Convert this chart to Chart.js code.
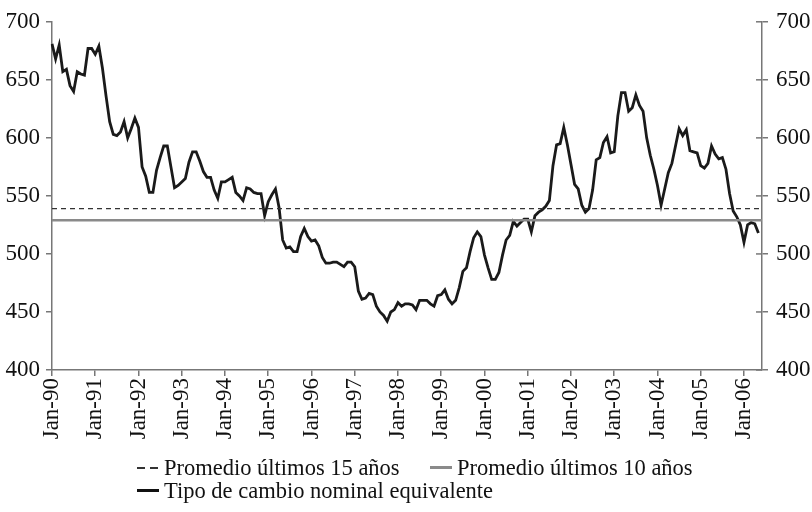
<!DOCTYPE html>
<html>
<head>
<meta charset="utf-8">
<script src="https://cdn.jsdelivr.net/npm/chart.js@4.4.0/dist/chart.umd.min.js"></script>
<style>
  html, body { margin: 0; padding: 0; background: #fff; }
  #wrap { position: relative; width: 812px; height: 512px; overflow: hidden; }
  #chart { position: absolute; left: 0; top: 0; }
  .item { position: absolute; display: flex; align-items: center; font-family: "Liberation Serif", "Times New Roman", serif; font-size: 22.5px; line-height: 23px; color: #111; white-space: nowrap; }
  .sym { display: inline-block; width: 22px; margin-right: 5px; }
  .dash { height: 2px; background: repeating-linear-gradient(to right, #333 0 8px, transparent 8px 13px); }
  .gray { height: 3px; background: #8a8a8a; }
  .black { height: 3px; background: #111; }
</style>
</head>
<body>
<div id="wrap">
  <canvas id="chart" width="812" height="512"></canvas>
  <div class="item" style="left:137px; top:456px;"><span class="sym dash"></span>Promedio últimos 15 años</div>
  <div class="item" style="left:430px; top:456px;"><span class="sym gray"></span>Promedio últimos 10 años</div>
  <div class="item" style="left:137px; top:479px;"><span class="sym black"></span>Tipo de cambio nominal equivalente</div>
</div>
<script>
// === Data ===
const monthNames = ["Jan", "Feb", "Mar", "Apr", "May", "Jun", "Jul", "Aug", "Sep", "Oct", "Nov", "Dec"];
const firstYear = 1990;
const lastYear = 2006;

// monthly values, Jan-90 .. May-06
const tipoCambio = [
  681, 668, 680, 657, 659, 645, 640, 657, 655, 654, 677, 677, // 1990
  672, 679, 660, 636, 614, 603, 602, 605, 614, 600, 608, 617, // 1991
  609, 575, 567, 553, 553, 572, 583, 593, 593, 575, 557, 559, // 1992
  562, 565, 579, 588, 588, 580, 571, 566, 566, 555, 548, 562, // 1993
  562, 564, 566, 553, 550, 546, 557, 556, 553, 552, 552, 533, // 1994
  545, 551, 556, 540, 512, 505, 506, 502, 502, 515, 522, 515, // 1995
  511, 512, 507, 497, 492, 492, 493, 493, 491, 489, 493, 493, // 1996
  489, 468, 461, 462, 466, 465, 455, 450, 447, 442, 450, 452, // 1997
  458, 455, 457, 457, 456, 452, 460, 460, 460, 457, 455, 464, // 1998
  465, 469, 461, 457, 460, 471, 485, 488, 502, 514, 519, 515, // 1999
  499, 488, 478, 478, 484, 499, 512, 516, 528, 524, 527, 530, // 2000
  530, 519, 533, 536, 538, 541, 546, 576, 594, 595, 609, 594, // 2001
  577, 560, 556, 542, 536, 539, 555, 581, 583, 596, 601, 587, // 2002
  588, 619, 639, 639, 623, 626, 637, 628, 623, 600, 585, 573, // 2003
  559, 542, 556, 570, 578, 593, 608, 602, 607, 589, 588, 587, // 2004
  576, 574, 578, 593, 586, 582, 583, 573, 552, 537, 532, 525, // 2005
  510, 525, 527, 526, 518                                     // 2006
];
const promedio15 = 539;
const promedio10 = 529;
const yMin = 400, yMax = 700, yStep = 50;

// labels Jan-90 .. Jun-06 (one spare month so the axis runs past the last point)
const labels = [];
for (let y = firstYear; y <= lastYear; y++) {
  monthNames.forEach((m, i) => {
    if (y === lastYear && i > 5) return;
    labels.push(m + "-" + String(y).slice(2));
  });
}

const font = { family: "'Liberation Serif', 'Times New Roman', serif", size: 23 };
const axisColor = "#777";

// right axis ticks also point into the plot
const innerTicks = {
  id: "innerTicks",
  afterDraw(chart) {
    const s = chart.scales.y2;
    const c = chart.ctx;
    c.save();
    c.strokeStyle = axisColor;
    c.lineWidth = 1.5;
    s.ticks.forEach((t, i) => {
      const py = s.getPixelForTick(i);
      c.beginPath();
      c.moveTo(s.left - 6, py);
      c.lineTo(s.left, py);
      c.stroke();
    });
    c.restore();
  }
};

const ctx = document.getElementById("chart").getContext("2d");
new Chart(ctx, {
  type: "line",
  data: {
    labels: labels,
    datasets: [
      {
        label: "Promedio últimos 15 años",
        data: labels.map(() => promedio15),
        borderColor: "#333",
        borderWidth: 1.4,
        borderDash: [5, 4],
        pointRadius: 0,
        yAxisID: "y"
      },
      {
        label: "Promedio últimos 10 años",
        data: labels.map(() => promedio10),
        borderColor: "#8a8a8a",
        borderWidth: 2.6,
        pointRadius: 0,
        yAxisID: "y"
      },
      {
        label: "Tipo de cambio nominal equivalente",
        data: tipoCambio,
        borderColor: "#1a1a1a",
        borderWidth: 2.8,
        pointRadius: 0,
        tension: 0,
        yAxisID: "y"
      }
    ]
  },
  options: {
    responsive: false,
    animation: false,
    layout: { padding: { top: 18, right: 0, bottom: 0, left: 0 } },
    plugins: { legend: { display: false }, tooltip: { enabled: false } },
    scales: {
      x: {
        grid: { drawOnChartArea: false, color: axisColor, tickLength: 6, lineWidth: 1.5 },
        border: { color: axisColor, width: 1.5 },
        ticks: {
          autoSkip: false,
          minRotation: 90,
          maxRotation: 90,
          padding: 2,
          color: "#111",
          font: font,
          callback: (v, i) => (i % 12 === 0 ? labels[i] : null)
        },
        afterFit: (s) => { s.height = 142; }
      },
      y: {
        position: "left",
        min: yMin,
        max: yMax,
        grid: { drawOnChartArea: false, color: axisColor, tickLength: 6, lineWidth: 1.5 },
        border: { color: axisColor, width: 1.5 },
        ticks: { stepSize: yStep, padding: 6, color: "#111", font: font },
        afterFit: (s) => { s.width = 52; }
      },
      y2: {
        position: "right",
        min: yMin,
        max: yMax,
        grid: { drawOnChartArea: false, color: axisColor, tickLength: 6, lineWidth: 1.5 },
        border: { color: axisColor, width: 1.5 },
        ticks: { stepSize: yStep, padding: 8, color: "#111", font: font },
        afterFit: (s) => { s.width = 50; }
      }
    }
  },
  plugins: [innerTicks]
});
</script>
</body>
</html>
